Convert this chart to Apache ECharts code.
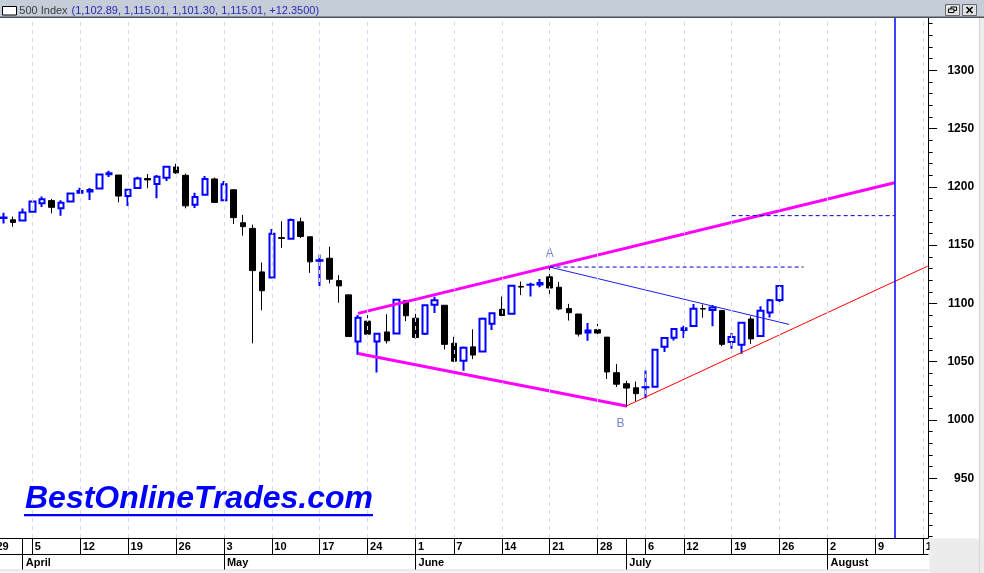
<!DOCTYPE html>
<html><head><meta charset="utf-8">
<script src="https://cdn.jsdelivr.net/npm/echarts@6/dist/echarts.min.js"></script>
<style>html,body{margin:0;padding:0;background:#fff;overflow:hidden;width:984px;height:573px;position:relative}#c{position:absolute;left:-11px;top:0;width:995px;height:573px}</style>
</head><body><div id="c"></div>
<script>
// ---- categories: trading days shown on the time axis (incl. empty future slots) ----
const dates = [
 '2010-03-29','2010-03-30','2010-03-31',
 '2010-04-01','2010-04-05','2010-04-06','2010-04-07','2010-04-08','2010-04-09','2010-04-12','2010-04-13','2010-04-14','2010-04-15','2010-04-16',
 '2010-04-19','2010-04-20','2010-04-21','2010-04-22','2010-04-23','2010-04-26','2010-04-27','2010-04-28','2010-04-29','2010-04-30',
 '2010-05-03','2010-05-04','2010-05-05','2010-05-06','2010-05-07','2010-05-10','2010-05-11','2010-05-12','2010-05-13','2010-05-14',
 '2010-05-17','2010-05-18','2010-05-19','2010-05-20','2010-05-21','2010-05-24','2010-05-25','2010-05-26','2010-05-27','2010-05-28',
 '2010-06-01','2010-06-02','2010-06-03','2010-06-04','2010-06-07','2010-06-08','2010-06-09','2010-06-10','2010-06-11',
 '2010-06-14','2010-06-15','2010-06-16','2010-06-17','2010-06-18','2010-06-21','2010-06-22','2010-06-23','2010-06-24','2010-06-25',
 '2010-06-28','2010-06-29','2010-06-30','2010-07-01','2010-07-02','2010-07-06','2010-07-07','2010-07-08','2010-07-09',
 '2010-07-12','2010-07-13','2010-07-14','2010-07-15','2010-07-16','2010-07-19','2010-07-20','2010-07-21','2010-07-22','2010-07-23',
 '2010-07-26','2010-07-27','2010-07-28','2010-07-29','2010-07-30','2010-08-02','2010-08-03','2010-08-04','2010-08-05','2010-08-06',
 '2010-08-09','2010-08-10','2010-08-11','2010-08-12','2010-08-13','2010-08-16'
];
// first category that carries a candle
const firstCandle = 1;
// close of the session before the first visible candle (sets its colour)
const priorClose = 1173.2;

// ---- OHLC values (2010-03-30 .. 2010-07-26) ----
const opens = [
 1173.75,1171.75,1171.23,1178.71,1186.01,1188.23,1181.75,1187.47,1194.94,1195.94,1198.69,1210.77,1210.17,
 1192.06,1199.04,1207.16,1202.52,1207.87,1217.07,1209.92,1184.59,1193.30,1206.77,
 1188.58,1197.50,1169.24,1164.38,1127.04,1122.27,1156.39,1155.43,1170.04,1157.19,
 1136.52,1138.78,1119.57,1107.34,1067.26,1084.78,1067.42,1075.51,1074.27,1102.59,
 1087.30,1073.89,1098.82,1098.43,1065.84,1050.81,1062.75,1058.77,1082.65,
 1095.00,1091.21,1114.02,1115.98,1116.16,1122.79,1113.90,1095.57,1090.93,1075.10,
 1077.50,1071.10,1040.56,1031.10,1027.65,1028.09,1028.54,1062.92,1070.50,
 1077.23,1080.65,1095.61,1094.46,1093.85,1066.85,1064.53,1086.67,1072.14,1092.17,
 1102.89
];
const highs = [
 1177.83,1174.56,1181.43,1187.73,1191.80,1189.60,1188.55,1194.66,1199.20,1199.04,1210.65,1213.92,1210.17,
 1197.87,1208.58,1210.99,1210.27,1217.28,1219.80,1211.38,1195.05,1209.36,1207.99,
 1205.13,1197.50,1175.95,1167.58,1135.13,1163.85,1170.48,1172.87,1173.57,1157.19,
 1141.88,1148.66,1124.27,1107.34,1090.16,1089.95,1074.75,1090.75,1103.52,1102.59,
 1094.77,1098.42,1105.67,1098.43,1071.36,1063.15,1077.74,1087.85,1092.25,
 1105.91,1115.59,1118.74,1117.72,1121.01,1131.23,1118.50,1099.64,1090.93,1083.11,
 1082.60,1071.10,1048.08,1033.58,1032.95,1042.50,1060.89,1071.25,1078.16,
 1080.78,1099.46,1099.08,1098.66,1093.85,1074.70,1083.94,1088.96,1097.50,1103.73,
 1115.01
];
const lows = [
 1168.47,1165.77,1170.69,1178.71,1182.77,1177.25,1175.12,1187.15,1194.71,1188.82,1198.69,1208.50,1186.77,
 1183.68,1199.04,1198.85,1190.19,1205.10,1211.07,1181.62,1181.81,1193.30,1186.32,
 1188.58,1168.12,1158.15,1065.79,1094.15,1122.27,1147.71,1155.43,1156.14,1126.14,
 1114.96,1117.20,1100.66,1071.58,1055.90,1072.70,1040.78,1065.59,1074.27,1084.78,
 1069.89,1072.94,1091.81,1060.50,1049.86,1042.17,1052.25,1058.77,1077.12,
 1089.03,1091.21,1107.13,1105.87,1113.93,1108.24,1094.18,1085.31,1071.60,1067.89,
 1071.45,1035.18,1028.33,1010.91,1015.93,1018.35,1028.54,1058.24,1068.10,
 1070.45,1080.65,1087.68,1080.53,1063.32,1061.11,1056.88,1065.25,1072.14,1087.88,
 1101.30
];
const closes = [
 1173.27,1169.43,1178.10,1187.44,1189.44,1182.45,1186.44,1194.37,1196.48,1197.30,1210.65,1211.67,1192.13,
 1197.52,1207.17,1205.94,1208.67,1217.28,1212.05,1183.71,1191.36,1206.78,1186.69,
 1202.26,1173.60,1165.87,1128.15,1110.88,1159.73,1155.79,1171.67,1157.44,1135.68,
 1136.94,1120.80,1115.05,1071.59,1087.69,1073.65,1074.03,1067.95,1103.06,1089.41,
 1070.71,1098.38,1102.83,1064.88,1050.47,1062.00,1055.69,1086.84,1091.60,
 1089.63,1115.23,1114.61,1116.04,1117.51,1113.20,1095.31,1092.04,1073.69,1076.76,
 1074.57,1041.24,1030.71,1027.37,1022.58,1028.06,1060.27,1070.25,1077.96,
 1078.75,1095.34,1095.17,1096.48,1064.88,1071.25,1083.48,1069.59,1093.67,1102.66,
 1115.01
];

// ---- axis tick labels ----
const yLabelValues = [950,1000,1050,1100,1150,1200,1250,1300];
const yMin = 898.77, yMax = 1344.86;
const monthNames = ['January','February','March','April','May','June','July','August','September','October','November','December'];

// ---- drawn annotations: [category index, price] ----
const upperWedge = [[38,1091.5],[94,1203.5]];
const lowerWedge = [[38,1057.0],[66,1012.0]];
const redTrend   = [[66,1012.0],[97.45,1132.0]];
const blueTrend  = [[58,1131.2],[83,1082.0]];
const dashA      = [[58,1131.2],[84.5,1131.2]];
const dashTop    = [[77,1175.3],[94,1175.3]];
const markerLineIndex = 94;
const pointLabels = [['A',58,1143.0],['B',65.4,996.5]];

// ---------------------------------------------------------------
const SHIFT = 11; // chart div is shifted left so the first (off-screen) slot is cut like the original
const dObj = dates.map(s => new Date(s + 'T00:00:00Z'));
const isWeekStart = dates.map((s,i) => i === 0 || dObj[i].getUTCDay() <= dObj[i-1].getUTCDay());
const isMonthStart = dates.map((s,i) => i > 0 && dObj[i].getUTCMonth() !== dObj[i-1].getUTCMonth());

const BLUE = '#0000ff';
const candleData = opens.map((o,k) => {
  const prev = k === 0 ? priorClose : closes[k-1];
  const up = closes[k] >= prev;
  const st = up
    ? {color:'#ffffff', color0:'#ffffff', borderColor:BLUE, borderColor0:BLUE, borderColorDoji:BLUE, borderWidth:2}
    : {color:'#000000', color0:'#000000', borderColor:'#000', borderColor0:'#000', borderColorDoji:'#000', borderWidth:1};
  return {value:[k+firstCandle, o, closes[k], lows[k], highs[k]], itemStyle: st};
});

const last = opens.length - 1;
const fmt = v => v.toLocaleString('en-US',{minimumFractionDigits:2, maximumFractionDigits:2});
const chg = closes[last] - closes[last-1];
const headerVals = '(' + [opens[last],highs[last],lows[last],closes[last]].map(fmt).join(', ') + ', ' + (chg>=0?'+':'') + chg.toFixed(4) + ')';

const minorTicks = []; for (let v = 900; v <= 1340; v += 10) minorTicks.push(v);

const FONT = '"Liberation Sans", Arial, sans-serif';
const weekMarks = dates.map((d,i)=> isWeekStart[i] ? {xAxis:i} : null).filter(Boolean);

const lineSeries = (data, color, width, type, z) => ({
  type:'line', xAxisIndex:2, yAxisIndex:0, data, showSymbol:false, symbol:'none', silent:true, z:z||3,
  lineStyle:{color, width, type: type || 'solid', cap:'butt'}, animation:false
});

const gridBox = {left:0.19, right:55.91, top:18, bottom:35, containLabel:false};
const chart = echarts.init(document.getElementById('c'), null, {renderer:'canvas'});
chart.setOption({
  animation:false,
  backgroundColor:'#ffffff',
  grid:[Object.assign({}, gridBox), Object.assign({}, gridBox)],
  xAxis:[
    {type:'category', data:dates, gridIndex:0, position:'bottom', boundaryGap:true,
     axisLine:{show:true, onZero:false, lineStyle:{color:'#000', width:1}},
     axisTick:{show:true, alignWithLabel:true, length:16, interval:(i)=>isWeekStart[i]||isMonthStart[i], lineStyle:{color:'#000', width:1}},
     axisLabel:{show:true, interval:(i)=>isWeekStart[i], formatter:(v)=>String(new Date(v+'T00:00:00Z').getUTCDate()),
       align:'left', padding:[0,0,0,2.5], margin:3, fontFamily:FONT, fontWeight:'bold', fontSize:11, color:'#000'},
     splitLine:{show:false}},
    {type:'category', data:dates, gridIndex:0, position:'bottom', offset:16, boundaryGap:true,
     axisLine:{show:true, onZero:false, lineStyle:{color:'#000', width:1}},
     axisTick:{show:true, alignWithLabel:true, length:16, interval:(i)=>isMonthStart[i], lineStyle:{color:'#000', width:1}},
     axisLabel:{show:true, interval:(i)=>isMonthStart[i], formatter:(v)=>monthNames[new Date(v+'T00:00:00Z').getUTCMonth()],
       align:'left', padding:[0,0,0,3], margin:3, fontFamily:FONT, fontWeight:'bold', fontSize:11, color:'#000'},
     splitLine:{show:false}},
    {type:'value', gridIndex:0, min:-0.5, max:dates.length-0.5, show:false, axisLine:{onZero:false}},
    {type:'value', gridIndex:1, min:-0.5, max:dates.length-0.5, show:false, axisLine:{onZero:false}}
  ],
  yAxis:[
    {type:'value', gridIndex:0, position:'right', min:yMin, max:yMax, scale:true,
     axisLine:{show:true, onZero:false, lineStyle:{color:'#000', width:1}},
     axisTick:{show:true, customValues:minorTicks, length:4.5, lineStyle:{color:'#000'}},
     axisLabel:{show:true, customValues:yLabelValues, formatter:(v)=>String(v), align:'right', margin:46, fontFamily:FONT, fontWeight:'bold', fontSize:12, color:'#000'},
     splitLine:{show:false}},
    {type:'value', gridIndex:1, position:'right', min:yMin, max:yMax, scale:true,
     axisLine:{show:false, onZero:false},
     axisTick:{show:true, customValues:yLabelValues, length:9, lineStyle:{color:'#000'}},
     axisLabel:{show:false}, splitLine:{show:false}}
  ],
  series:[
    {type:'line', xAxisIndex:2, yAxisIndex:0, data:[[0,1000]], showSymbol:false, symbol:'none', lineStyle:{opacity:0}, z:1, silent:true,
     markLine:{silent:true, symbol:['none','none'], label:{show:false}, animation:false,
       lineStyle:{color:'#d8d8f6', width:1, type:[4,4]}, data:weekMarks}},
    {type:'candlestick', xAxisIndex:0, yAxisIndex:0, barWidth:6, z:2, silent:true,
     dimensions:['idx','open','close','lowest','highest'],
     encode:{x:'idx', y:['open','close','lowest','highest']},
     data:candleData},
    lineSeries(lowerWedge, '#ff00ff', 3),
    lineSeries(upperWedge, '#ff00ff', 3),
    lineSeries(blueTrend, '#1c1cf0', 1),
    lineSeries(redTrend, '#ff0000', 1),
    lineSeries(dashA, '#0000c8', 1, [4,3]),
    lineSeries(dashTop, '#0000c8', 1, [4,3]),
    {type:'scatter', xAxisIndex:2, yAxisIndex:0, symbol:'circle', symbolSize:2, itemStyle:{color:'rgba(0,0,0,0)'}, z:4, silent:true,
     data:pointLabels.map(p=>({value:[p[1],p[2]], name:p[0]})),
     label:{show:true, position:'inside', formatter:(p)=>p.name, color:'#5868c0', fontFamily:FONT, fontSize:12}},
    {type:'line', xAxisIndex:2, yAxisIndex:0, data:[[markerLineIndex,1000]], showSymbol:false, symbol:'none', lineStyle:{opacity:0}, z:5, silent:true,
     markLine:{silent:true, symbol:['none','none'], label:{show:false}, animation:false,
       lineStyle:{color:'#0000ff', width:1.5, type:'solid'}, data:[{xAxis:markerLineIndex}]}}
  ],
  graphic:[{type:'group', x:SHIFT, y:0, children:[
    {type:'rect', z:50, shape:{x:0,y:0,width:984,height:17}, style:{fill:'#c4cdd8'}},
    {type:'rect', z:51, shape:{x:0,y:16.5,width:984,height:1.5}, style:{fill:'#4e5258'}},
    {type:'rect', z:52, shape:{x:2.5,y:6.5,width:14,height:8.5}, style:{fill:'#ffffff', stroke:'#000', lineWidth:1}},
    {type:'text', z:52, x:19.3, y:10.8, style:{text:'500 Index', font:'11px '+FONT, fill:'#3c3c3c', verticalAlign:'middle'}},
    {type:'text', z:52, x:71.5, y:10.8, style:{text:headerVals, font:'11px '+FONT, fill:'#2a2ab4', verticalAlign:'middle'}},
    {type:'rect', z:52, shape:{x:945.5,y:4.5,width:14,height:11}, style:{fill:'#dfe1e4', stroke:'#6a6a6a', lineWidth:1}},
    {type:'rect', z:53, shape:{x:951,y:7,width:5.5,height:3.5}, style:{fill:'#dfe1e4', stroke:'#000', lineWidth:1}},
    {type:'rect', z:54, shape:{x:948.5,y:9,width:5.5,height:3.5}, style:{fill:'#dfe1e4', stroke:'#000', lineWidth:1}},
    {type:'rect', z:52, shape:{x:962.5,y:4.5,width:14,height:11}, style:{fill:'#dfe1e4', stroke:'#6a6a6a', lineWidth:1}},
    {type:'line', z:53, shape:{x1:966.5,y1:7,x2:972.5,y2:13}, style:{stroke:'#000', lineWidth:1.6}},
    {type:'line', z:53, shape:{x1:972.5,y1:7,x2:966.5,y2:13}, style:{stroke:'#000', lineWidth:1.6}},
    {type:'text', z:40, x:25, y:499.5, style:{text:'BestOnlineTrades.com', font:'italic bold 32px '+FONT, fill:'#0000ff', verticalAlign:'middle'}},
    {type:'rect', z:40, shape:{x:24,y:514,width:349,height:2.2}, style:{fill:'#0000ff'}},
    {type:'rect', z:60, shape:{x:979.5,y:18,width:4.5,height:555}, style:{fill:'#ececec'}},
    {type:'line', z:61, shape:{x1:979.5,y1:18,x2:979.5,y2:573}, style:{stroke:'#d6d6d6', lineWidth:1}},
    {type:'rect', z:60, shape:{x:929.5,y:538.5,width:55,height:35}, style:{fill:'#ececec'}},
    {type:'rect', z:60, shape:{x:0,y:570,width:929.5,height:3}, style:{fill:'#f6f6f8'}},
    {type:'line', z:61, shape:{x1:0,y1:570,x2:929.5,y2:570}, style:{stroke:'#d8d8e2', lineWidth:1}}
  ]}]
});
</script>
</body></html>
